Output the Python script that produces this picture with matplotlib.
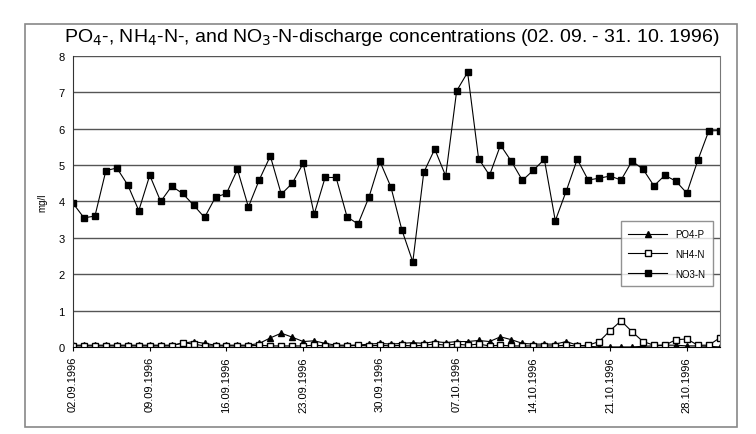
import numpy as np
import pandas as pd
import matplotlib
matplotlib.use('Agg')
import matplotlib.pyplot as plt
import matplotlib.dates as mdates
from matplotlib.patches import Rectangle

plt.rcParams['font.family'] = ['Liberation Sans', 'DejaVu Sans']

# daily samples 02.09.1996 - 31.10.1996
dates = pd.date_range('1996-09-02', '1996-10-31', freq='D')

no3 = [3.95, 3.55, 3.6, 4.85, 4.92, 4.45, 3.75, 4.72, 4.0, 4.42,
       4.22, 3.9, 3.56, 4.12, 4.22, 4.88, 3.85, 4.6, 5.25, 4.2,
       4.5, 5.05, 3.65, 4.66, 4.66, 3.58, 3.38, 4.12, 5.1, 4.4,
       3.22, 2.34, 4.8, 5.44, 4.7, 7.04, 7.55, 5.18, 4.72, 5.55,
       5.1, 4.58, 4.86, 5.16, 3.47, 4.29, 5.16, 4.59, 4.64, 4.7,
       4.59, 5.11, 4.89, 4.43, 4.72, 4.56, 4.23, 5.13, 5.94, 5.95]

nh4 = [0.03, 0.03, 0.03, 0.03, 0.03, 0.03, 0.03, 0.03, 0.03, 0.03,
       0.12, 0.08, 0.03, 0.03, 0.03, 0.03, 0.03, 0.05, 0.03, 0.03,
       0.03, 0.03, 0.05, 0.03, 0.03, 0.03, 0.05, 0.03, 0.05, 0.03,
       0.05, 0.03, 0.05, 0.08, 0.05, 0.08, 0.05, 0.08, 0.03, 0.05,
       0.03, 0.03, 0.03, 0.03, 0.03, 0.05, 0.03, 0.05, 0.15, 0.45,
       0.72, 0.42, 0.15, 0.05, 0.05, 0.2, 0.22, 0.05, 0.05, 0.25]

po4 = [0.05, 0.05, 0.05, 0.05, 0.05, 0.05, 0.05, 0.05, 0.05, 0.05,
       0.1, 0.15, 0.1, 0.05, 0.05, 0.05, 0.05, 0.1, 0.25, 0.38,
       0.27, 0.15, 0.17, 0.1, 0.05, 0.05, 0.05, 0.08, 0.1, 0.08,
       0.1, 0.12, 0.1, 0.15, 0.12, 0.15, 0.15, 0.18, 0.15, 0.28,
       0.2, 0.1, 0.08, 0.08, 0.08, 0.15, 0.05, 0.02, 0.0, 0.0,
       0.0, 0.0, 0.02, 0.03, 0.05, 0.05, 0.03, 0.03, 0.02, 0.0]

fig = plt.figure(figsize=(7.56, 4.35), dpi=100)
ax = fig.add_axes([0.0966, 0.2, 0.8554, 0.669])

# outer chart frame
fig.patches.append(Rectangle((25/756, 7/435), 712/756, 403/435, transform=fig.transFigure,
                             fill=False, edgecolor='#888888', linewidth=1.2))

ax.plot(dates, po4, '-^', color='black', linewidth=0.8, markersize=4, label='PO4-P')
ax.plot(dates, nh4, '-s', color='black', markerfacecolor='white', linewidth=0.8,
        markersize=5, label='NH4-N')
ax.plot(dates, no3, '-s', color='black', linewidth=0.8, markersize=5, label='NO3-N')

ax.set_xlim(dates[0], dates[-1])
ax.set_ylim(0, 8)
ax.set_yticks(range(0, 9))
ax.grid(axis='y', color='#555555', linewidth=1)
ax.set_axisbelow(True)

ax.set_xticks(dates[::7])
ax.xaxis.set_major_formatter(mdates.DateFormatter('%d.%m.%Y'))
plt.setp(ax.get_xticklabels(), rotation=90, fontsize=8)
ax.tick_params(axis='y', labelsize=8, length=0, pad=6)
ax.tick_params(axis='x', length=3)

ax.spines['top'].set_visible(False)
ax.spines['right'].set_color('#777777')
ax.spines['left'].set_color('#333333')

ax.set_ylabel('mg/l', fontsize=7, labelpad=8)

fig.text(0.518, 0.913, r'PO$_4$-, NH$_4$-N-, and NO$_3$-N-discharge concentrations (02. 09. - 31. 10. 1996)',
         ha='center', va='center', fontsize=14)

ax.legend(loc='center right', bbox_to_anchor=(0.997, 0.32), fontsize=7, frameon=True,
          fancybox=False, edgecolor='#777777', handlelength=4, labelspacing=1.0,
          borderpad=0.8)

fig.savefig('out.png', dpi=100)
